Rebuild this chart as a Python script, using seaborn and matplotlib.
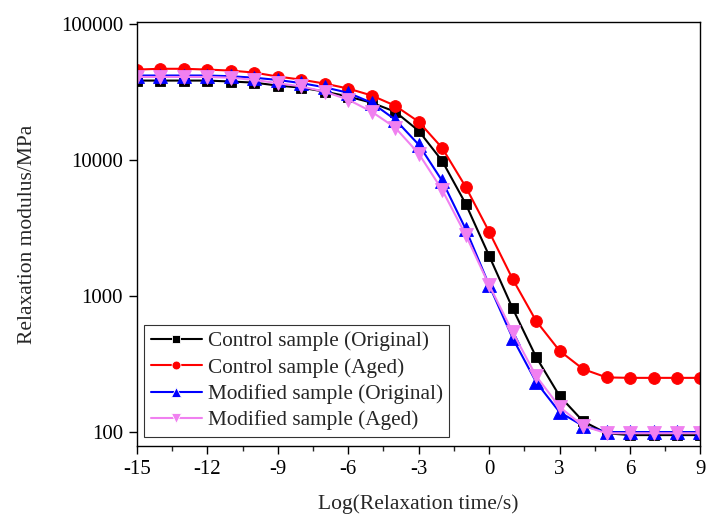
import numpy as np
import pandas as pd
import matplotlib
matplotlib.use("Agg")
import matplotlib.pyplot as plt
import seaborn as sns
from matplotlib.ticker import FixedLocator, MultipleLocator, NullLocator, FixedFormatter

log_time = list(range(-15, 10))

control_original = [38100, 38100, 38100, 38100, 37500, 36800, 35000, 33800, 31600, 29100,
                    26200, 22500, 16300, 9800, 4750, 1970, 810, 356, 184, 120,
                    98, 95, 95, 95, 95]
control_aged = [45900, 46500, 46500, 45900, 45100, 43600, 40800, 38700, 36200, 33300,
                29600, 24900, 19000, 12200, 6330, 2960, 1330, 655, 395, 290,
                252, 250, 250, 250, 250]
modified_original = [41500, 41500, 41500, 41500, 41000, 40000, 38500, 36500, 34000, 31000,
                     26200, 19700, 12900, 7000, 3100, 1200, 490, 233, 140, 111,
                     100, 100, 100, 100, 100]
modified_aged = [40500, 40500, 40500, 40500, 40000, 38500, 36500, 34500, 31600, 27600,
                 22500, 17200, 11100, 6000, 2810, 1200, 543, 258, 153, 111,
                 98, 98, 98, 98, 98]

series_names = ["Control sample (Original)", "Control sample (Aged)",
                "Modified sample (Original)", "Modified sample (Aged)"]
series_values = [control_original, control_aged, modified_original, modified_aged]
colors = ["#000000", "#FF0000", "#0000FF", "#F080F0"]
markers = ["s", "o", "^", "v"]
marker_sizes = [7.5, 8.5, 9.5, 9.5]

y_ticks = [100, 1000, 10000, 100000]
y_tick_labels = ["100", "1000", "10000", "100000"]
x_ticks = [-15, -12, -9, -6, -3, 0, 3, 6, 9]

rows = []
for name, vals in zip(series_names, series_values):
    for t, v in zip(log_time, vals):
        rows.append({"t": t, "G": v, "series": name})
df = pd.DataFrame(rows)

sns.set_style("ticks")
plt.rcParams["font.family"] = ["Liberation Serif", "DejaVu Serif"]
plt.rcParams["axes.unicode_minus"] = False
plt.rcParams["axes.linewidth"] = 1.0

fig = plt.figure(figsize=(7.09, 5.18), dpi=100)
ax = fig.add_axes([0.193, 0.139, 0.795, 0.819])

sns.lineplot(data=df, x="t", y="G", hue="series", style="series",
             hue_order=series_names, style_order=series_names,
             palette=colors, markers=markers, dashes=False,
             markersize=8, markeredgewidth=0.6, linewidth=1.5, ax=ax)
for line, c, ms in zip(ax.lines, colors, marker_sizes):
    line.set_markeredgecolor(c)
    line.set_markersize(ms)

ax.set_yscale("log")
ax.set_ylim(79, 100000 * 1.03)
ax.set_xlim(-15, 9)
ax.yaxis.set_major_locator(FixedLocator(y_ticks))
ax.yaxis.set_major_formatter(FixedFormatter(y_tick_labels))
ax.yaxis.set_minor_locator(NullLocator())
ax.xaxis.set_major_locator(FixedLocator(x_ticks))
ax.xaxis.set_minor_locator(MultipleLocator(1.5))
ax.tick_params(axis="both", which="major", direction="out", length=6, width=1.0,
               labelsize=15, colors="black", pad=4)
ax.tick_params(axis="x", which="minor", direction="out", length=3.5, width=1.0)
for s in ax.spines.values():
    s.set_visible(True)
    s.set_color("black")

ax.set_xlabel("Log(Relaxation time/s)", fontsize=15.5, labelpad=11)
ax.set_ylabel("Relaxation modulus/MPa", fontsize=15.5, labelpad=17)

handles, labels = ax.get_legend_handles_labels()
for h, ms in zip(handles, marker_sizes):
    h.set_markersize(ms * 0.75)
leg = ax.legend(handles, labels, loc="lower left", bbox_to_anchor=(0.013, 0.022),
                borderaxespad=0, fontsize=15.3, frameon=True, fancybox=False,
                edgecolor="black", handlelength=2.4, labelspacing=0.3,
                handletextpad=0.3, borderpad=0.3)
leg.get_frame().set_linewidth(0.8)

fig.savefig("out.png", dpi=100)
